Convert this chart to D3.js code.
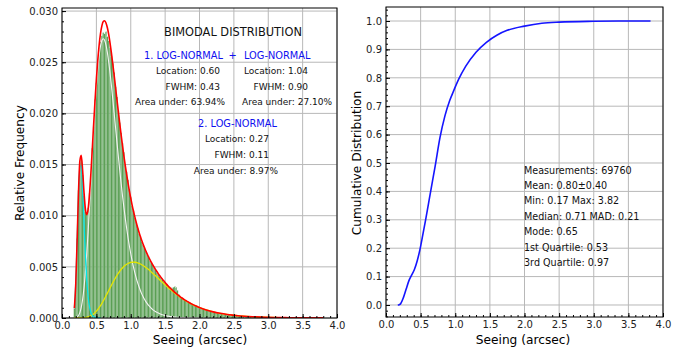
<!DOCTYPE html>
<html>
<head>
<meta charset="utf-8">
<script src="https://cdn.jsdelivr.net/npm/d3@7"></script>
<style>
  body { margin: 0; background: #fff; }
  text { font-family: "DejaVu Sans", sans-serif; }
</style>
</head>
<body>
<svg width="681" height="349"></svg>
<script>
// histogram: relative frequency per 0.02" bin, first bin starts at 0.17
var binStart = 0.17, binWidth = 0.02;
var histValues = [
  0.0009,0.0035,0.0078,0.0125,0.0152,0.0155,0.0140,0.0120,0.0104,0.0102,
  0.0108,0.0122,0.0140,0.0166,0.0187,0.0214,0.0230,0.0248,0.0262,0.0270,
  0.0276,0.0279,0.0278,0.0280,0.0275,0.0271,0.0264,0.0256,0.0249,0.0240,
  0.0226,0.0216,0.0203,0.0191,0.0181,0.0171,0.0162,0.0150,0.0143,0.0135,
  0.0126,0.0118,0.0110,0.0105,0.0098,0.0094,0.0088,0.0083,0.0080,0.0075,
  0.0072,0.0069,0.0065,0.0062,0.0060,0.0056,0.0054,0.0052,0.0049,0.0047,
  0.0045,0.0043,0.0041,0.0040,0.0038,0.0036,0.0035,0.0033,0.0032,0.0030,
  0.0030,0.0029,0.0030,0.0031,0.0030,0.0027,0.0023,0.0021,0.0020,0.0019,
  0.0018,0.0017,0.0016,0.0015,0.0015,0.0014,0.0013,0.0013,0.0012,0.0011,
  0.0011,0.0010,0.00098,0.00093,0.00088,0.00083,0.00079,0.00075,0.00071,0.00067,
  0.00064,0.00060,0.00057,0.00054,0.00051,0.00048,0.00046,0.00044,0.00041,0.00039,
  0.00037,0.00035,0.00033,0.00031,0.00030,0.00028,0.00027,0.00025,0.00024,0.00022,
  0.00021,0.00020,
  0.00019,0.00018,0.00017,0.00016,0.00015,0.00014,0.00014,0.00013,0.00012,0.00012,
  0.00011,0.0001,0.0001,0.00009,0.00009,0.00008,0.00008,0.00007,0.00007,0.00007,
  0.00006,0.00006,0.00006,0.00005,0.00005,0.00005,0.00005,0.00004,0.00004,0.00004,
  0.00004,0.00003,0.00003,0.00003,0.00003,0.00003,0.00003,0.00002,0.00002,0.00002,
  0.00002,0.00002,0.00002,0.00001,0.00001,0.00001,0.00001,0.00001,0.00001,0.00001,
  0.00001,0.00001,0,0.00001,0,0,0.00001,0,0,0,0.00001
];

// fitted curves, sampled at these seeing values
var fitX = [
  0.18,0.20,0.22,0.24,0.26,0.28,0.30,0.32,0.34,0.36,
  0.38,0.40,0.42,0.44,0.46,0.48,0.50,0.52,0.54,0.56,
  0.58,0.60,0.62,0.64,0.66,0.68,0.70,0.72,0.74,0.76,
  0.78,0.80,0.82,0.84,0.86,0.88,0.90,0.92,0.94,0.96,
  0.98,1.00,1.02,1.04,1.06,1.08,1.10,1.12,1.14,1.16,
  1.18,1.20,1.22,1.24,1.26,1.28,1.30,1.32,1.34,1.36,
  1.38,1.40,1.42,1.44,1.46,1.48,1.50,1.52,1.54,1.56,
  1.58,1.60,1.62,1.64,1.66,1.68,1.70,1.72,1.74,1.76,
  1.78,1.80,1.82,1.84,1.86,1.88,1.90,1.92,1.94,1.96,
  1.98,2.00,
  2.1,2.2,2.3,2.4,2.5,2.6,2.7,2.8,2.9,3.0,3.1,3.2,3.3,3.4,3.5,3.6,3.7,3.8
];
var fitTotal = [
  0.00095,0.00333,0.00757,0.01226,0.01537,0.0159,0.01443,0.0123,0.01066,0.0101,
  0.01063,0.01208,0.01412,0.01645,0.01888,0.0212,0.02333,0.02517,0.02666,0.0278,
  0.02855,0.02897,0.02905,0.02884,0.02837,0.02769,0.02683,0.02585,0.02478,0.02364,
  0.02248,0.0213,0.02014,0.019,0.0179,0.01685,0.01585,0.01491,0.01403,0.0132,
  0.01243,0.01171,0.01104,0.01043,0.00986,0.00933,0.00884,0.00839,0.00797,0.00757,
  0.00721,0.00687,0.00654,0.00625,0.00596,0.00569,0.00543,0.00519,0.00496,0.00475,
  0.00454,0.00434,0.00415,0.00397,0.0038,0.00363,0.00347,0.00331,0.00316,0.00302,
  0.00289,0.00276,0.00263,0.00251,0.0024,0.00228,0.00218,0.00207,0.00198,0.00188,
  0.00179,0.00171,0.00162,0.00155,0.00147,0.0014,0.00133,0.00126,0.0012,0.00114,
  0.00108,0.00103,
  0.00079,0.0006,0.00046,0.00035,0.00027,0.0002,0.00015,0.00012,0.00009,0.00007,
  0.00005,0.00004,0.00003,0.00002,0.000017,0.000013,0.00001,0.000008
];
var fitMain = [
  0.00001,0.00003,0.00009,0.00024,0.00053,0.00104,0.00182,0.00295,0.00444,0.00628,
  0.00843,0.01082,0.01334,0.01588,0.01835,0.02062,0.02264,0.02433,0.02565,0.02658,
  0.02712,0.0273,0.02714,0.02667,0.02594,0.025,0.02388,0.02264,0.02131,0.01993,
  0.01853,0.01713,0.01576,0.01444,0.01316,0.01195,0.01082,0.00976,0.00878,0.00787,
  0.00704,0.00628,0.00559,0.00497,0.00441,0.0039,0.00345,0.00305,0.00269,0.00236,
  0.00208,0.00183,0.0016,0.00141,0.00123,0.00108,0.00094,0.00082,0.00072,0.00063,
  0.00055,0.00048,0.00042,0.00037,0.00032,0.00028,0.00024,0.00021,0.00018,0.00016,
  0.00014,0.00012,0.00011,0.00009,0.00008,0.00007,0.00006,0.00005,0.00005,0.00004,
  0.00004,0.00003,0.00003,0.00002,0.00002,0.00002,0.00002,0.00001,0.00001,0.00001,
  0.00001,0.00001
];
var fitWide = [
  0,0,0,0,0,0,0.00001,0.00002,0.00004,0.00007,
  0.0001,0.00015,0.00022,0.0003,0.0004,0.00052,0.00067,0.00083,0.00101,0.00121,
  0.00143,0.00167,0.00191,0.00217,0.00243,0.00269,0.00295,0.00321,0.00347,0.00371,
  0.00395,0.00417,0.00438,0.00457,0.00474,0.00489,0.00503,0.00515,0.00525,0.00533,
  0.00539,0.00543,0.00545,0.00546,0.00545,0.00543,0.00539,0.00534,0.00528,0.00521,
  0.00513,0.00504,0.00494,0.00484,0.00473,0.00461,0.00449,0.00437,0.00424,0.00412,
  0.00399,0.00386,0.00373,0.0036,0.00348,0.00335,0.00323,0.0031,0.00298,0.00286,
  0.00275,0.00264,0.00253,0.00242,0.00232,0.00222,0.00212,0.00202,0.00193,0.00184,
  0.00176,0.00168,0.0016,0.00152,0.00145,0.00138,0.00131,0.00125,0.00119,0.00113,
  0.00107,0.00102,
  0.00079,0.0006,0.00046,0.00035,0.00027,0.0002,0.00015,0.00012,0.00009,0.00007,
  0.00005,0.00004,0.00003,0.00002,0.000017,0.000013,0.00001,0.000008
];
var fitNarrow = [
  0.00094,0.0033,0.00747,0.01202,0.01484,0.01486,0.0126,0.00932,0.00618,0.00375,
  0.0021,0.00111,0.00056,0.00027,0.00012,0.00006,0.00002,0.00001,0,0
];

// cumulative distribution
var cdfX = [0.17,0.19,0.21,0.25,0.29,0.33,0.37,0.41,0.45,0.49,0.53,0.57,0.61,0.65,0.71,0.78,0.85,0.92,0.97,1.05,1.15,1.30,1.45,1.60,1.75,2.00,2.25,2.50,3.00,3.50,3.82];
var cdfY = [0,0.001,0.004,0.025,0.055,0.085,0.105,0.125,0.155,0.195,0.245,0.297,0.352,0.407,0.489,0.59,0.665,0.72,0.75,0.795,0.84,0.89,0.925,0.95,0.967,0.982,0.992,0.996,0.999,1.0,1.0];

var xTicks = [0,0.5,1,1.5,2,2.5,3,3.5,4];
var freqTicks = [0,0.005,0.010,0.015,0.020,0.025,0.030];
var cumTicks = [0,0.1,0.2,0.3,0.4,0.5,0.6,0.7,0.8,0.9,1.0];

var statLines = ["Measurements: 69760","Mean: 0.80\u00b10.40","Min: 0.17 Max: 3.82","Median: 0.71 MAD: 0.21","Mode: 0.65","1st Quartile: 0.53","3rd Quartile: 0.97"];

var svg = d3.select("svg");

function minorRange(a, b, step) {
  var out = [];
  for (var v = a; v <= b + 1e-9; v += step) out.push(+v.toFixed(4));
  return out;
}

function frame(g, x, y, xt, yt) {
  var x0 = x.range()[0], x1 = x.range()[1], y0 = y.range()[0], y1 = y.range()[1];
  // grid
  g.append("g").selectAll("line").data(xt).enter().append("line")
    .attr("x1", d => x(d)).attr("x2", d => x(d)).attr("y1", y0).attr("y2", y1)
    .attr("stroke", "#b8b8b8").attr("stroke-width", 1);
  g.append("g").selectAll("line").data(yt).enter().append("line")
    .attr("y1", d => y(d)).attr("y2", d => y(d)).attr("x1", x0).attr("x2", x1)
    .attr("stroke", "#b8b8b8").attr("stroke-width", 1);
}

function axes(g, x, y, xt, yt, xMinor, yMinor, yFmt) {
  var x0 = x.range()[0], x1 = x.range()[1], y0 = y.range()[0], y1 = y.range()[1];
  g.append("g").attr("transform", "translate(0," + y0 + ")")
    .call(d3.axisBottom(x).tickValues(xMinor).tickSize(-2).tickFormat(""));
  g.append("g").attr("transform", "translate(" + x0 + ",0)")
    .call(d3.axisLeft(y).tickValues(yMinor).tickSize(-2).tickFormat(""));
  g.append("g").attr("transform", "translate(0," + y0 + ")")
    .call(d3.axisBottom(x).tickValues(xt).tickSize(-4).tickPadding(4).tickFormat(d3.format(".1f")));
  g.append("g").attr("transform", "translate(" + x0 + ",0)")
    .call(d3.axisLeft(y).tickValues(yt).tickSize(-4).tickPadding(4).tickFormat(d3.format(yFmt)));
  g.selectAll(".domain").remove();
  g.selectAll(".tick text").attr("font-size", 10).attr("fill", "#222").style("font-family", "DejaVu Sans");
  g.selectAll(".tick line").attr("stroke", "#000");
  g.append("rect").attr("x", x0).attr("y", y1).attr("width", x1 - x0).attr("height", y0 - y1)
    .attr("fill", "none").attr("stroke", "#000").attr("stroke-width", 1);
}

// ---------- left panel ----------
var xL = d3.scaleLinear().domain([0, 4]).range([62, 337]);
var yL = d3.scaleLinear().domain([0, 0.0303]).range([318, 8]);
var gL = svg.append("g");
frame(gL, xL, yL, xTicks, freqTicks);

svg.append("clipPath").attr("id", "clipL").append("rect")
  .attr("x", 62).attr("y", 8).attr("width", 275).attr("height", 310);
var plotL = gL.append("g").attr("clip-path", "url(#clipL)");

plotL.selectAll("rect.bar").data(histValues).enter().append("rect")
  .attr("class", "bar")
  .attr("x", (d, i) => xL(binStart + i * binWidth))
  .attr("width", xL(binWidth) - xL(0))
  .attr("y", d => yL(d))
  .attr("height", d => yL(0) - yL(d))
  .attr("fill", "#5a9f54")
  .attr("stroke", "#ffffff")
  .attr("stroke-width", 0.2)
  .attr("stroke-opacity", 0.6);

var fitLine = d3.line().x(d => xL(d[0])).y(d => yL(d[1])).curve(d3.curveMonotoneX);
function pairs(vals) { return vals.map((v, i) => [fitX[i], v]); }

plotL.append("path").attr("d", fitLine(pairs(fitMain)))
  .attr("fill", "none").attr("stroke", "#f4f4f4").attr("stroke-width", 1.1);
plotL.append("path").attr("d", fitLine(pairs(fitWide)))
  .attr("fill", "none").attr("stroke", "#e6e600").attr("stroke-width", 1.3);
plotL.append("path").attr("d", fitLine(pairs(fitNarrow)))
  .attr("fill", "none").attr("stroke", "#00e5e5").attr("stroke-width", 1.3);
plotL.append("path").attr("d", fitLine(pairs(fitTotal)))
  .attr("fill", "none").attr("stroke", "#ff0000").attr("stroke-width", 1.6);

axes(gL, xL, yL, xTicks, freqTicks, minorRange(0, 4, 0.1), minorRange(0, 0.03, 0.001), ".3f");

gL.append("text").attr("transform", "translate(24,163) rotate(-90)")
  .attr("text-anchor", "middle").attr("font-size", 12.2).text("Relative Frequency");
gL.append("text").attr("x", 200).attr("y", 344)
  .attr("text-anchor", "middle").attr("font-size", 12.2).text("Seeing (arcsec)");

// annotation block
function note(txt, x, y, anchor, size, color) {
  gL.append("text").attr("x", x).attr("y", y).attr("text-anchor", anchor)
    .attr("font-size", size).attr("fill", color).text(txt);
}
note("BIMODAL DISTRIBUTION", 233, 36, "middle", 11.4, "#111");
note("1. LOG-NORMAL", 144, 58.5, "start", 9.8, "#1010f0");
note("+", 232.5, 58.5, "middle", 9.8, "#1010f0");
note("LOG-NORMAL", 244, 58.5, "start", 9.8, "#1010f0");
note("Location: 0.60", 220, 74, "end", 9, "#111");
note("FWHM: 0.43", 220, 89.5, "end", 9, "#111");
note("Area under: 63.94%", 225, 104.5, "end", 9, "#111");
note("Location: 1.04", 308, 74, "end", 9, "#111");
note("FWHM: 0.90", 308, 89.5, "end", 9, "#111");
note("Area under: 27.10%", 332, 104.5, "end", 9, "#111");
note("2. LOG-NORMAL", 237.5, 127, "middle", 9.8, "#1010f0");
note("Location: 0.27", 269, 141.5, "end", 9, "#111");
note("FWHM: 0.11", 269, 157.5, "end", 9, "#111");
note("Area under: 8.97%", 278, 173.5, "end", 9, "#111");

// ---------- right panel ----------
var xR = d3.scaleLinear().domain([0, 4]).range([386, 663]);
var yR = d3.scaleLinear().domain([-0.0423, 1.0493]).range([317, 7]);
var gR = svg.append("g");
frame(gR, xR, yR, xTicks, cumTicks);

var cdfLine = d3.line().x(d => xR(d[0])).y(d => yR(d[1])).curve(d3.curveMonotoneX);
gR.append("path").attr("d", cdfLine(cdfX.map((v, i) => [v, cdfY[i]])))
  .attr("fill", "none").attr("stroke", "#1515ff").attr("stroke-width", 1.6);

axes(gR, xR, yR, xTicks, cumTicks, minorRange(0, 4, 0.1), minorRange(-0.04, 1.04, 0.02), ".1f");

gR.append("text").attr("transform", "translate(361,163) rotate(-90)")
  .attr("text-anchor", "middle").attr("font-size", 12.2).text("Cumulative Distribution");
gR.append("text").attr("x", 523).attr("y", 344)
  .attr("text-anchor", "middle").attr("font-size", 12.2).text("Seeing (arcsec)");

gR.selectAll("text.stat").data(statLines).enter().append("text")
  .attr("class", "stat")
  .attr("x", 524)
  .attr("y", (d, i) => 173.5 + i * 15.45)
  .attr("font-size", 9.6).attr("fill", "#111")
  .text(d => d);
</script>
</body>
</html>
